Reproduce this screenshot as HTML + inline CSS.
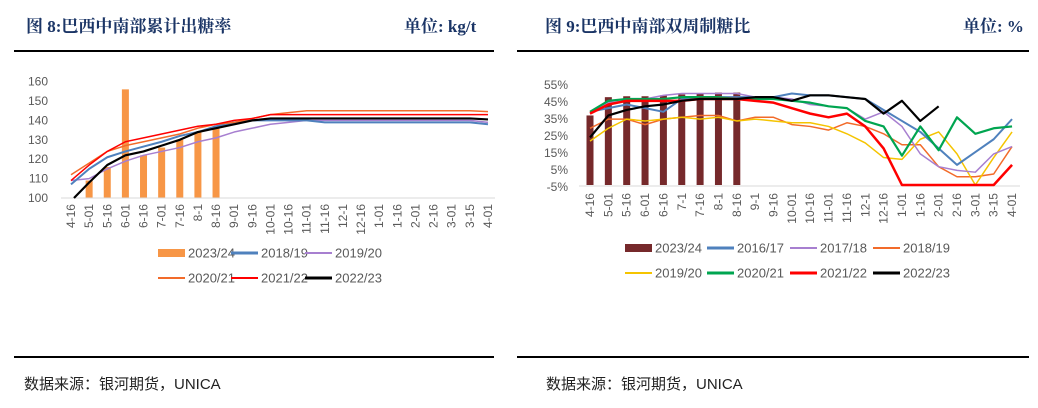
<!DOCTYPE html>
<html><head><meta charset="utf-8"><style>
body{margin:0;width:1038px;height:408px;background:#fff;overflow:hidden;position:relative;font-family:"Liberation Sans","Noto Sans CJK SC",sans-serif}
.t{position:absolute;top:12px;font-family:"Liberation Serif","Noto Serif CJK SC",serif;font-weight:bold;font-size:17px;color:#1b3566}
.src{position:absolute;top:373px;font-size:15px;color:#222}
.ln{position:absolute;height:2px;background:#000}
</style></head><body>
<div class="t" style="left:26px">图 8:巴西中南部累计出糖率</div>
<div class="t" style="left:404px">单位: kg/t</div>
<div class="t" style="left:545px">图 9:巴西中南部双周制糖比</div>
<div class="t" style="left:963px">单位: %</div>
<div class="ln" style="left:14px;width:480px;top:50px"></div>
<div class="ln" style="left:517px;width:512px;top:50px"></div>
<div class="ln" style="left:14px;width:480px;top:356px"></div>
<div class="ln" style="left:517px;width:512px;top:356px"></div>
<div class="src" style="left:24px">数据来源：银河期货，UNICA</div>
<div class="src" style="left:546px">数据来源：银河期货，UNICA</div>
<svg id="s" width="1038" height="408" style="position:absolute;left:0;top:0" font-family="Liberation Sans, sans-serif" font-size="12" fill="#595959"></svg>
<script>
var s=document.getElementById('s'),h='';
function P(pts,c,w){h+='<polyline fill="none" stroke="'+c+'" stroke-width="'+w+'" stroke-linejoin="round" points="'+pts.join(' ')+'"/>';}
var catsL=['4-16','5-01','5-16','6-01','6-16','7-01','7-16','8-1','8-16','9-01','9-16','10-01','10-16','11-01','11-16','12-1','12-16','1-01','1-16','2-01','2-16','3-01','3-15','4-01'];
function xl(i){return 71+i*18.13} function yl(v){return 198-(v-100)*1.94}
[100,110,120,130,140,150,160].forEach(function(v){h+='<text x="48" y="'+(yl(v)+4)+'" text-anchor="end">'+v+'</text>'});
var bl=[null,109,116,156,122,126,130,134,136];
bl.forEach(function(v,i){if(v)h+='<rect x="'+(xl(i)-3.5)+'" y="'+yl(v)+'" width="7" height="'+(198-yl(v))+'" fill="#f79646"/>'});
h+='<line x1="61" y1="198" x2="495" y2="198" stroke="#d9d9d9"/>';
catsL.forEach(function(c,i){h+='<text transform="translate('+(xl(i)+4)+',204) rotate(-90)" text-anchor="end">'+c+'</text>'});
var L=[['#a77fd0',1.5,[109,110,115,119,122,124,126,129,131,134,136,138,139,140,140,140,140,140,140,140,140,140,140,139]],
['#4f81bd',2,[107,115,121,124,126.5,129,132,134,137,139,140,140,140,140,139,139,139,139,139,139,139,139,139,138]],
['#f26b2a',1.5,[112,118,124,127,129,131,133,136,138,139,141,143,144,145,145,145,145,145,145,145,145,145,145,144.5]],
['#ff0000',1.5,[109,117,124,129,131,133,135,137,138,140,141,143,143,143,143,143,143,143,143,143,143,143,143,143]],
['#000',2.2,[100,108,117,122,124,127,130,134,136,138,140,141,141,141,141,141,141,141,141,141,141,141,141,140.5]]];
L.forEach(function(s){P(s[2].map(function(v,i){return (i==0&&v==100?xl(0)+3:xl(i))+','+yl(v)}),s[0],s[1])});
function leg(x,y,c,w,t,bar){h+=bar?'<rect x="'+x+'" y="'+(y-4)+'" width="27" height="8" fill="'+c+'"/>':'<line x1="'+x+'" y1="'+y+'" x2="'+(x+27)+'" y2="'+y+'" stroke="'+c+'" stroke-width="'+w+'"/>';h+='<text x="'+(x+30)+'" y="'+(y+4.5)+'" font-size="13">'+t+'</text>'}
leg(158,253,'#f79646',0,'2023/24',1);leg(231,253,'#4f81bd',3,'2018/19');leg(305,253,'#a77fd0',2,'2019/20');
leg(158,278,'#f26b2a',2,'2020/21');leg(231,278,'#ff0000',2,'2021/22');leg(305,278,'#000',3,'2022/23');
function xr(i){return 590+i*18.35} function yr(v){return 185-v*1.83}
var catsR=['4-16','5-01','5-16','6-01','6-16','7-1','7-16','8-1','8-16','9-1','9-16','10-01','10-16','11-01','11-16','12-1','12-16','1-01','1-16','2-01','2-16','3-01','3-15','4-01'];
[55,45,35,25,15,5,-5].forEach(function(v,k){h+='<text x="568" y="'+(89+k*17)+'" text-anchor="end">'+v+'%</text>'});
[38,48,48.5,48.5,49,49.5,50,50.5,50.5].forEach(function(v,i){h+='<rect x="'+(xr(i)-3.5)+'" y="'+yr(v)+'" width="7" height="'+(185-yr(v))+'" fill="#76292b"/>'});
h+='<line x1="579" y1="186" x2="1020" y2="186" stroke="#d9d9d9"/>';
catsR.forEach(function(c,i){h+='<text transform="translate('+(xr(i)+4)+',193) rotate(-90)" text-anchor="end">'+c+'</text>'});
var R=[['#f26b2a',1.5,[31,36,36,33,36,37,38,38,35,37,37,33,32,30,34,32,28,22,22,10,4.5,4.5,6,21]],
['#f5c400',1.5,[24,31,36,35,36,37,36,37,35,36,35,34,34,32,28,23,15,14,25,29,17,0,15,29]],
['#a77fd0',1.5,[40,45,46,47,49,50,50,50,50,48,48,47,44,43,42,36,40,32,17,10,8,7,17,21]],
['#4f81bd',2,[40,42,44,42,40,47,48,48,48,48,48,50,49,49,48,47,41,35,29,20,11,18,25,36]],
['#00a550',2.2,[40,46,47,47,47,48,48,48,47,47,47,46,45,43,42,35,32,16,32,19,37,28,31,32]],
['#ff0000',2.5,[39,44,46,46,46,46,47,47,47,46,45,42,39,37,39,32,20,0,0,0,0,0,0,11]],
['#000',2.2,[26,38,41,43,44,46,47,47,47,48,48,46,49,49,48,47,39,46,35,43]]];
R.forEach(function(s){P(s[2].map(function(v,i){return xr(i)+','+yr(v)}),s[0],s[1])});
leg(625,248,'#76292b',0,'2023/24',1);leg(707,248,'#4f81bd',3,'2016/17');leg(790,248,'#a77fd0',2,'2017/18');leg(873,248,'#f26b2a',2,'2018/19');
leg(625,273,'#f5c400',2,'2019/20');leg(707,273,'#00a550',3,'2020/21');leg(790,273,'#ff0000',3,'2021/22');leg(873,273,'#000',3,'2022/23');
s.innerHTML=h;
</script>
</body></html>
